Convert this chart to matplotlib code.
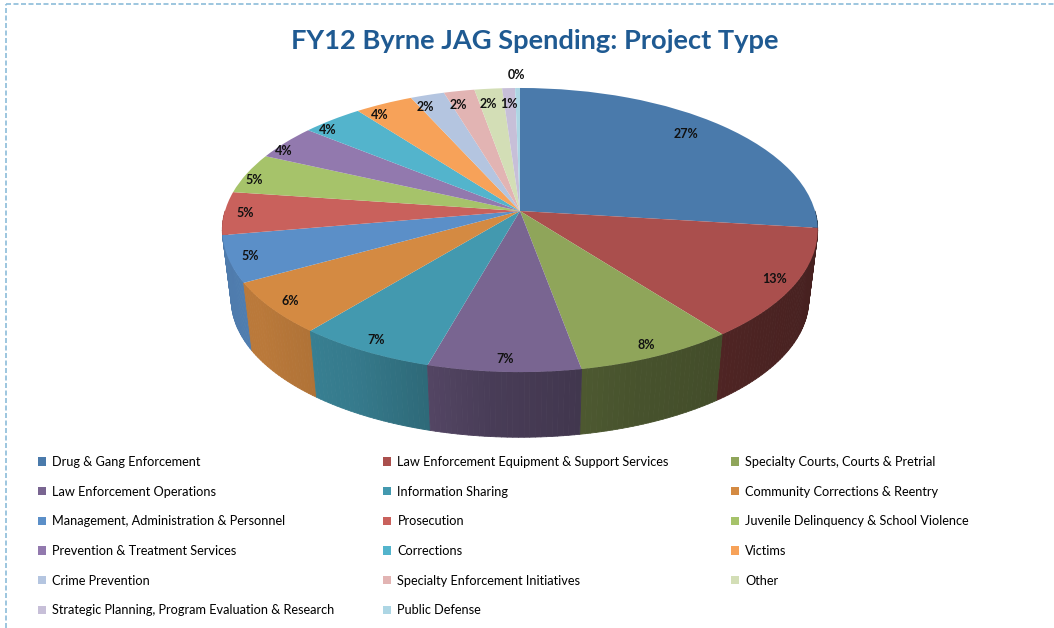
import numpy as np
import matplotlib
matplotlib.use("Agg")
import matplotlib.pyplot as plt
import matplotlib.transforms as mtransforms
from matplotlib.patches import Patch
from matplotlib.collections import PolyCollection
from matplotlib.lines import Line2D

# ---------------- data ----------------
categories = [
    "Drug & Gang Enforcement",
    "Law Enforcement Equipment & Support Services",
    "Specialty Courts, Courts & Pretrial",
    "Law Enforcement Operations",
    "Information Sharing",
    "Community Corrections & Reentry",
    "Management, Administration & Personnel",
    "Prosecution",
    "Juvenile Delinquency & School Violence",
    "Prevention & Treatment Services",
    "Corrections",
    "Victims",
    "Crime Prevention",
    "Specialty Enforcement Initiatives",
    "Other",
    "Strategic Planning, Program Evaluation & Research",
    "Public Defense",
]
shares = [26.9, 12.6, 7.6, 7.3, 6.6, 6.0, 5.3, 4.9, 4.6, 4.0, 3.8, 3.6,
          2.1, 1.9, 1.7, 0.8, 0.3]
colors = ["#4A7AAB", "#AA4F4D", "#8FA55A", "#796591", "#4399AF", "#D48A42",
          "#5B8FC8", "#C9615C", "#A6C36A", "#9279AE", "#53B4CC", "#F7A259",
          "#B4C5E0", "#E2B4B3", "#D3DEB6", "#C7BFD8", "#ADD6E4"]
title = "FY12 Byrne JAG Spending: Project Type"

plt.rcParams["font.family"] = ["Lato", "DejaVu Sans"]

W, H = 1054, 628
fig = plt.figure(figsize=(W / 100, H / 100), dpi=100)
ax = fig.add_axes([0, 0, 1, 1])

# ---------------- perspective projection (layout) ----------------
CX, CY, SX, SY, PC = 520.0, 211.0, 295.0, 139.5, 0.134
DEPTH, BSCALE = 70.0, 0.97

def project(u, v, z=0.0):
    u = np.asarray(u, float)
    v = np.asarray(v, float)
    w = 1.0 + PC * v
    sc = 1.0 - (1.0 - BSCALE) * z
    X = CX + sc * SX * u / w
    Y = CY - sc * SY * v / w + DEPTH * z
    return X, Y

class Persp(mtransforms.Transform):
    input_dims = 2
    output_dims = 2
    is_separable = False
    has_inverse = False

    def transform_non_affine(self, values):
        values = np.asarray(values, float)
        X, Y = project(values[:, 0], values[:, 1])
        return np.column_stack([X, Y])

persp = Persp()

# ---------------- pie top ----------------
wedges, _, autotexts = ax.pie(
    shares, colors=colors, startangle=90, counterclock=False,
    autopct="%1.0f%%", pctdistance=0.93, labeldistance=None,
    wedgeprops=dict(linewidth=0),
    textprops=dict(fontsize=9, fontweight="bold", color="#111111"))

ax.set_aspect("auto")
ax.set_xlim(0, W)
ax.set_ylim(H, 0)
ax.axis("off")

for wdg in wedges:
    wdg.set_transform(persp + ax.transData)
    wdg.set_zorder(3)
for t in autotexts:
    t.set_transform(persp + ax.transData)
    t.set_zorder(4)
    x0, y0 = t.get_position()
    ang = np.arctan2(y0, x0)
    s, c = np.sin(ang), np.cos(ang)
    sp, cp, cn = max(s, 0.0), max(c, 0.0), max(-c, 0.0)
    # Excel-like label placement on the back half of the pie
    r_new = 0.93 - 0.08 * sp ** 2 + 0.12 * sp * cn - 0.08 * sp * cp
    ang_new = ang + np.radians(8.0 * sp * cn + 6.0 * sp * cp)
    t.set_position((r_new * np.cos(ang_new), r_new * np.sin(ang_new)))
# tiny slice label sits outside the pie
x0, y0 = autotexts[-1].get_position()
rr = np.hypot(x0, y0)
autotexts[-1].set_position((x0 * 1.12 / rr, y0 * 1.12 / rr))

# ---------------- pie side walls ----------------
bounds = 90.0 - 3.6 * np.concatenate([[0.0], np.cumsum(shares)]) * 100.0 / sum(shares)
light_phi = [0, 40, 70, 95, 120, 145, 180]
light_fac = [0.40, 0.44, 0.50, 0.60, 0.80, 0.88, 0.85]

polys, fcs, keys = [], [], []
for i in range(len(shares)):
    lo, hi = bounds[i + 1], bounds[i]
    for off in (0.0, -360.0, 360.0):
        l2, h2 = max(lo + off, -180.0), min(hi + off, 0.0)
        if h2 <= l2:
            continue
        n = max(int(np.ceil(h2 - l2)), 1)
        angs = np.linspace(l2, h2, n + 1)
        for a1, a2 in zip(angs[:-1], angs[1:]):
            r1, r2 = np.radians(a1), np.radians(a2)
            tx, ty = project([np.cos(r1), np.cos(r2)], [np.sin(r1), np.sin(r2)], 0)
            bx, by = project([np.cos(r2), np.cos(r1)], [np.sin(r2), np.sin(r1)], 1)
            polys.append(np.column_stack([np.r_[tx, bx], np.r_[ty, by]]))
            phi = -0.5 * (a1 + a2)
            f = np.interp(phi, light_phi, light_fac)
            rgb = np.array(matplotlib.colors.to_rgb(colors[i])) * f
            fcs.append(np.clip(rgb, 0, 1))
            keys.append(np.mean(ty))

order = np.argsort(keys)
pc = PolyCollection([polys[j] for j in order], facecolors=[fcs[j] for j in order],
                    edgecolors=[fcs[j] for j in order], linewidths=0.6, zorder=2)
ax.add_collection(pc)

# ---------------- title ----------------
fig.canvas.draw()
renderer = fig.canvas.get_renderer()
ttl = fig.text(535 / W, 1 - 41 / H, title, ha="center", va="center",
               fontsize=24, fontweight="bold", color="#1F5A92")
wid = ttl.get_window_extent(renderer).width
ttl.set_fontsize(24 * 488 / wid)

# ---------------- legend (3 columns, row-major order) ----------------
probe = fig.text(0, 0, categories[15], fontsize=10)
pw = probe.get_window_extent(renderer).width
probe.remove()
fs = 10.0 * 284 / pw
fpx = fs * 100 / 72.0

handles = [Patch(facecolor=c, edgecolor="none") for c in colors]
col_x = [38, 383, 731]
for col in range(3):
    idx = list(range(col, len(categories), 3))
    fig.legend([handles[j] for j in idx], [categories[j] for j in idx],
               loc="upper left", bbox_to_anchor=(col_x[col] / W, 1 - 456 / H),
               frameon=False, fontsize=fs, handlelength=8 / fpx,
               handleheight=8 / fpx, handletextpad=0.5,
               labelspacing=(29.6 + 3.2) / fpx - 1.18, borderaxespad=0, borderpad=0)

# ---------------- dashed border ----------------
bc = "#8CBCD9"
fig.add_artist(Line2D([6 / W, 1], [1 - 4 / H, 1 - 4 / H], transform=fig.transFigure,
                      color=bc, lw=1.2, ls=(0, (3, 1.5))))
fig.add_artist(Line2D([6 / W, 6 / W], [0, 1 - 4 / H], transform=fig.transFigure,
                      color=bc, lw=1.2, ls=(0, (3, 1.5))))

fig.savefig("out.png", dpi=100, facecolor="white")
